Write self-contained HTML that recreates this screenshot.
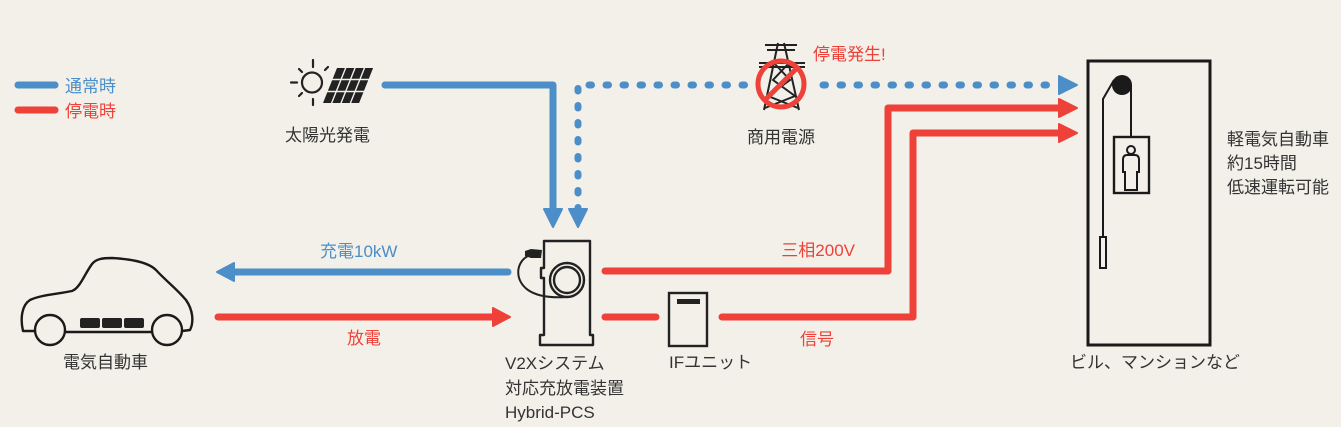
<!DOCTYPE html>
<html><head><meta charset="utf-8"><style>
html,body{margin:0;padding:0;background:#f2f0e8;}
svg{display:block;}
text{font-family:"Liberation Sans","Noto Sans CJK JP",sans-serif;font-size:17px;}
.d{fill:#333;}
.b{fill:#4b8ec8;}
.r{fill:#ee4139;}
</style></head><body>
<svg width="1341" height="427" viewBox="0 0 1341 427" xmlns="http://www.w3.org/2000/svg">
<rect width="1341" height="427" fill="#f2f0e8"/>

<!-- legend -->
<line x1="18" y1="85" x2="55" y2="85" stroke="#4b8ec8" stroke-width="7" stroke-linecap="round"/>
<line x1="18" y1="110" x2="55" y2="110" stroke="#ee4139" stroke-width="7" stroke-linecap="round"/>
<text x="65" y="92" class="b">通常時</text>
<text x="65" y="117" class="r">停電時</text>

<!-- sun -->
<g stroke="#222" stroke-width="2.2" fill="none" stroke-linecap="round">
<circle cx="312" cy="82.5" r="10"/>
<line x1="313" y1="60" x2="313" y2="67"/>
<line x1="313" y1="99" x2="313" y2="105"/>
<line x1="291" y1="82.5" x2="297" y2="82.5"/>
<line x1="299" y1="69" x2="302" y2="72"/>
<line x1="328" y1="67" x2="325" y2="70"/>
<line x1="299" y1="96" x2="302" y2="93"/>
</g>
<!-- solar panel -->
<g fill="#222">
<polygon points="337,68 344.9,68 340.6,78.7 332.7,78.7"/>
<polygon points="346.4,68 354.3,68 350,78.7 342.1,78.7"/>
<polygon points="355.8,68 363.7,68 359.4,78.7 351.5,78.7"/>
<polygon points="365.2,68 373.1,68 368.8,78.7 360.9,78.7"/>
<polygon points="332.1,80.2 340,80.2 335.8,90.8 327.9,90.8"/>
<polygon points="341.5,80.2 349.4,80.2 345.2,90.8 337.3,90.8"/>
<polygon points="350.9,80.2 358.8,80.2 354.6,90.8 346.7,90.8"/>
<polygon points="360.3,80.2 368.2,80.2 364,90.8 356.1,90.8"/>
<polygon points="327.3,92.3 335.2,92.3 330.9,103 323,103"/>
<polygon points="336.7,92.3 344.6,92.3 340.3,103 332.4,103"/>
<polygon points="346.1,92.3 354,92.3 349.7,103 341.8,103"/>
<polygon points="355.5,92.3 363.4,92.3 359.1,103 351.2,103"/>
</g>
<text x="285" y="141" class="d">太陽光発電</text>

<!-- solid blue solar line -->
<path d="M385,85 H553 V212" fill="none" stroke="#4b8ec8" stroke-width="7" stroke-linecap="round" stroke-linejoin="round"/>
<polygon points="544,209 562,209 553,227" fill="#4b8ec8" stroke="#4b8ec8" stroke-width="2" stroke-linejoin="round"/>

<!-- dotted blue grid line -->
<path d="M578,210 V85 H745" fill="none" stroke="#4b8ec8" stroke-width="7" stroke-linecap="round" stroke-dasharray="2.5 14.5"/>
<polygon points="569,209 587,209 578,227" fill="#4b8ec8" stroke="#4b8ec8" stroke-width="2" stroke-linejoin="round"/>
<path d="M823,85 H1058" fill="none" stroke="#4b8ec8" stroke-width="7" stroke-linecap="round" stroke-dasharray="2.5 14.5"/>
<polygon points="1059,76 1059,94 1077,85" fill="#4b8ec8" stroke="#4b8ec8" stroke-width="2" stroke-linejoin="round"/>

<!-- tower -->
<g stroke="#222" stroke-width="2" fill="none">
<line x1="765" y1="45" x2="797" y2="45"/>
<line x1="767" y1="50" x2="795" y2="50"/>
<line x1="759" y1="63" x2="805" y2="63"/>
<line x1="759" y1="67" x2="805" y2="67"/>
<path d="M778,43 L764,110 M784,43 L799,110"/>
<path d="M774,63 L790,80 L768,96 L798,108 M789,63 L773,80 L795,96 L765,108"/>
</g>
<circle cx="781" cy="84" r="23" fill="none" stroke="#ee4139" stroke-width="5"/>
<line x1="797" y1="68" x2="765" y2="100" stroke="#ee4139" stroke-width="5"/>
<text x="813" y="60" class="r">停電発生!</text>
<text x="747" y="143" class="d">商用電源</text>

<!-- red lines to building -->
<path d="M605,271 H888 V108 H1058" fill="none" stroke="#ee4139" stroke-width="7" stroke-linecap="round" stroke-linejoin="round"/>
<polygon points="1059,99 1059,117 1077,108" fill="#ee4139" stroke="#ee4139" stroke-width="2" stroke-linejoin="round"/>
<path d="M605,317 H656" fill="none" stroke="#ee4139" stroke-width="7" stroke-linecap="round"/>
<path d="M722,317 H913 V133 H1058" fill="none" stroke="#ee4139" stroke-width="7" stroke-linecap="round" stroke-linejoin="round"/>
<polygon points="1059,124 1059,142 1077,133" fill="#ee4139" stroke="#ee4139" stroke-width="2" stroke-linejoin="round"/>
<text x="855" y="256" class="r" text-anchor="end">三相200V</text>
<text x="800" y="345" class="r">信号</text>

<!-- charge / discharge arrows -->
<path d="M508,272 H230" fill="none" stroke="#4b8ec8" stroke-width="7" stroke-linecap="round"/>
<polygon points="234,263 234,281 217,272" fill="#4b8ec8" stroke="#4b8ec8" stroke-width="2" stroke-linejoin="round"/>
<path d="M218,317 H495" fill="none" stroke="#ee4139" stroke-width="7" stroke-linecap="round"/>
<polygon points="493,308 493,326 510,317" fill="#ee4139" stroke="#ee4139" stroke-width="2" stroke-linejoin="round"/>
<text x="320" y="257" class="b">充電10kW</text>
<text x="347" y="344" class="r">放電</text>

<!-- V2X device -->
<g stroke="#222" stroke-width="2.4" fill="none" stroke-linejoin="round">
<path d="M544,241 H590 V335 H593 V345 H540 V335 H544 V278 H541 V268 H544 Z"/>
<circle cx="567" cy="280" r="17"/>
<circle cx="567" cy="280" r="13"/>
<path d="M528,256 C516,262 514,280 528,290 C538,297 552,298 567,297" stroke-width="2"/>
</g>
<path d="M525,251 L531,249 L542,250 L541,258 L531,258 L525,256 Z" fill="#222"/>
<text x="505" y="369" class="d">V2Xシステム</text>
<text x="505" y="394" class="d">対応充放電装置</text>
<text x="505" y="418" class="d">Hybrid-PCS</text>

<!-- IF unit -->
<rect x="669" y="293" width="38" height="53" fill="none" stroke="#222" stroke-width="2.4"/>
<rect x="677" y="299" width="23" height="5" fill="#222"/>
<text x="669" y="368" class="d">IFユニット</text>

<!-- car -->
<g stroke="#1a1a1a" stroke-width="2.4" fill="none" stroke-linejoin="round">
<path d="M35,331 L23,331 C20,318 22,305 30,300 C40,295 58,294 72,291 C80,288 84,275 92,264 C96,259 102,258 112,258 C130,259 148,262 156,270 C166,281 176,288 186,300 C193,310 194,322 190,330 L182,331"/>
<circle cx="50" cy="330" r="15"/>
<circle cx="167" cy="330" r="15"/>
<line x1="65" y1="332" x2="152" y2="332"/>
</g>
<g fill="#222">
<rect x="80" y="318" width="20" height="10" rx="2"/>
<rect x="102" y="318" width="20" height="10" rx="2"/>
<rect x="124" y="318" width="20" height="10" rx="2"/>
</g>
<text x="63" y="368" class="d">電気自動車</text>

<!-- building / elevator -->
<rect x="1088" y="61" width="122" height="284" fill="none" stroke="#1a1a1a" stroke-width="3"/>
<circle cx="1122" cy="85" r="10" fill="#1a1a1a"/>
<g stroke="#1a1a1a" stroke-width="2" fill="none">
<path d="M1114,80 L1103,99 V237"/>
<line x1="1131" y1="85" x2="1131" y2="137"/>
<rect x="1100" y="237" width="6" height="31"/>
<rect x="1114" y="137" width="35" height="56" stroke-width="2.4"/>
<circle cx="1131" cy="150" r="4"/>
<path d="M1127,155 H1135 C1138,155 1139,157 1139,160 V172 H1137 V190 H1125 V172 H1123 V160 C1123,157 1124,155 1127,155 Z"/>
</g>
<text x="1227" y="145" class="d">軽電気自動車</text>
<text x="1227" y="169" class="d">約15時間</text>
<text x="1227" y="193" class="d">低速運転可能</text>
<text x="1070" y="368" class="d">ビル、マンションなど</text>
</svg>
</body></html>
